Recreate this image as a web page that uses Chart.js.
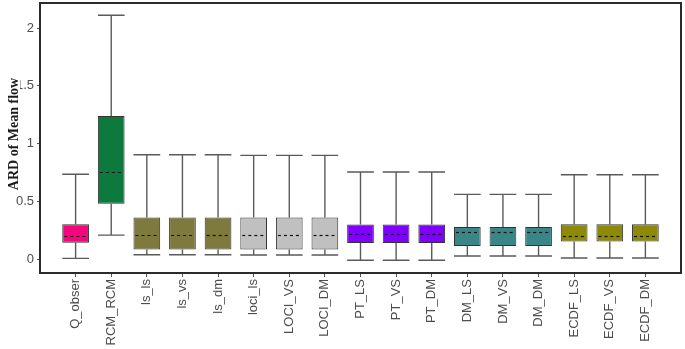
<!DOCTYPE html>
<html>
<head>
<meta charset="utf-8">
<script src="https://cdn.jsdelivr.net/npm/chart.js@4/dist/chart.umd.min.js"></script>
<style>
html,body{margin:0;padding:0;background:#fff;}
#wrap{width:685px;height:349px;position:relative;}
</style>
</head>
<body>
<div id="wrap"><canvas id="c" width="685" height="349"></canvas></div>
<script>
const categories = ['Q_obser','RCM_RCM','ls_ls','ls_vs','ls_dm','loci_ls','LOCI_VS','LOCI_DM','PT_LS','PT_VS','PT_DM','DM_LS','DM_VS','DM_DM','ECDF_LS','ECDF_VS','ECDF_DM'];
const whiskerLow  = [0.010, 0.211, 0.042, 0.042, 0.042, 0.040, 0.040, 0.040, -0.006, -0.006, -0.006, 0.031, 0.031, 0.031, 0.014, 0.014, 0.014];
const q1          = [0.145, 0.483, 0.087, 0.087, 0.087, 0.087, 0.087, 0.087, 0.144, 0.144, 0.144, 0.118, 0.118, 0.118, 0.156, 0.156, 0.156];
const median      = [0.202, 0.760, 0.211, 0.211, 0.211, 0.216, 0.216, 0.216, 0.225, 0.225, 0.225, 0.234, 0.234, 0.234, 0.202, 0.202, 0.202];
const q3          = [0.306, 1.241, 0.364, 0.364, 0.364, 0.364, 0.364, 0.364, 0.303, 0.303, 0.303, 0.282, 0.282, 0.282, 0.306, 0.306, 0.306];
const whiskerHigh = [0.737, 2.110, 0.905, 0.905, 0.905, 0.900, 0.900, 0.900, 0.756, 0.756, 0.756, 0.563, 0.563, 0.563, 0.733, 0.733, 0.733];
const boxColors   = ['#F5067E','#0B7A3C','#7E7A3E','#7E7A3E','#7E7A3E','#C0C0C0','#C0C0C0','#C0C0C0','#7F00FF','#7F00FF','#7F00FF','#3A8686','#3A8686','#3A8686','#8C8A06','#8C8A06','#8C8A06'];
const yTicks = [0, 0.5, 1, 1.5, 2];
const yTitle = 'ARD of Mean flow';

const boxPlugin = {
  id: 'boxParts',
  beforeDatasetsDraw(chart) {
    const ctx = chart.ctx;
    const meta = chart.getDatasetMeta(0);
    const ys = chart.scales.y;
    ctx.save();
    ctx.strokeStyle = '#5a5a5a';
    ctx.lineWidth = 1.4;
    meta.data.forEach((bar, i) => {
      const x = bar.x;
      const hw = bar.width / 2;
      const yHi = ys.getPixelForValue(whiskerHigh[i]);
      const yLo = ys.getPixelForValue(whiskerLow[i]);
      const yQ3 = ys.getPixelForValue(q3[i]);
      const yQ1 = ys.getPixelForValue(q1[i]);
      ctx.beginPath();
      ctx.moveTo(x, yQ3); ctx.lineTo(x, yHi);
      ctx.moveTo(x, yQ1); ctx.lineTo(x, yLo);
      ctx.moveTo(x - hw, yHi); ctx.lineTo(x + hw, yHi);
      ctx.moveTo(x - hw, yLo); ctx.lineTo(x + hw, yLo);
      ctx.stroke();
    });
    ctx.restore();
  },
  afterDatasetsDraw(chart) {
    const ctx = chart.ctx;
    const meta = chart.getDatasetMeta(0);
    const ys = chart.scales.y;
    ctx.save();
    ctx.strokeStyle = '#111';
    ctx.lineWidth = 1.2;
    ctx.setLineDash([3, 3]);
    meta.data.forEach((bar, i) => {
      const x = bar.x;
      const hw = bar.width / 2;
      const ym = Math.round(ys.getPixelForValue(median[i])) + 0.5;
      ctx.beginPath();
      ctx.moveTo(x - hw + 2, ym); ctx.lineTo(x + hw - 1, ym);
      ctx.stroke();
    });
    ctx.restore();
  },
  afterDraw(chart) {
    const ctx = chart.ctx;
    const a = chart.chartArea;
    ctx.save();
    ctx.strokeStyle = '#2b2b2b';
    ctx.lineWidth = 2;
    ctx.strokeRect(a.left, a.top, a.right - a.left, a.bottom - a.top);
    // y axis title
    ctx.translate(14, 134);
    ctx.rotate(-Math.PI / 2);
    ctx.font = 'bold 14px "Liberation Serif", "DejaVu Serif", serif';
    const w = ctx.measureText(yTitle).width;
    ctx.fillStyle = '#fff';
    ctx.fillRect(-w / 2 - 1, -8, w + 2, 14);
    ctx.fillStyle = '#1a1a1a';
    ctx.textAlign = 'center';
    ctx.textBaseline = 'middle';
    ctx.fillText(yTitle, 0, 0);
    ctx.restore();
  }
};

new Chart(document.getElementById('c'), {
  type: 'bar',
  data: {
    datasets: [{
      data: categories.map((c, i) => ({ x: i, y: [q1[i], q3[i]] })),
      backgroundColor: boxColors,
      borderColor: '#333',
      borderWidth: 1,
      borderSkipped: false,
      categoryPercentage: 1,
      barPercentage: 0.75
    }]
  },
  options: {
    responsive: false,
    animation: false,
    devicePixelRatio: 1,
    layout: { padding: { top: 3, right: 4, left: 0, bottom: 0 } },
    plugins: { legend: { display: false }, tooltip: { enabled: false }, title: { display: false } },
    scales: {
      x: {
        type: 'linear',
        offset: false,
        min: -1,
        max: 17,
        afterBuildTicks(scale) { scale.ticks = categories.map((c, i) => ({ value: i })); },
        afterFit(scale) { scale.height = 76; scale.paddingLeft = 0; scale.paddingRight = 0; },
        grid: { display: true, offset: false, drawOnChartArea: false, drawTicks: true, tickLength: 4, color: '#555', lineWidth: 1 },
        border: { display: false },
        ticks: {
          autoSkip: false,
          maxRotation: 90,
          minRotation: 90,
          padding: 2,
          color: '#4d4d4d',
          font: { family: '"Liberation Sans", Arial, sans-serif', size: 13 },
          callback: (v) => categories[v] !== undefined ? categories[v] : ''
        }
      },
      y: {
        type: 'linear',
        min: -0.116,
        max: 2.216,
        afterBuildTicks(scale) { scale.ticks = yTicks.map(v => ({ value: v })); },
        afterFit(scale) { scale.width = 40; scale.paddingTop = 0; scale.paddingBottom = 0; },
        grid: { display: true, drawOnChartArea: false, drawTicks: true, tickLength: 3, color: '#555', lineWidth: 1 },
        border: { display: false },
        ticks: {
          padding: 3,
          color: '#4d4d4d',
          font: { family: '"Liberation Sans", Arial, sans-serif', size: 13 },
          callback: (v) => String(v)
        }
      }
    }
  },
  plugins: [boxPlugin]
});
</script>
</body>
</html>
